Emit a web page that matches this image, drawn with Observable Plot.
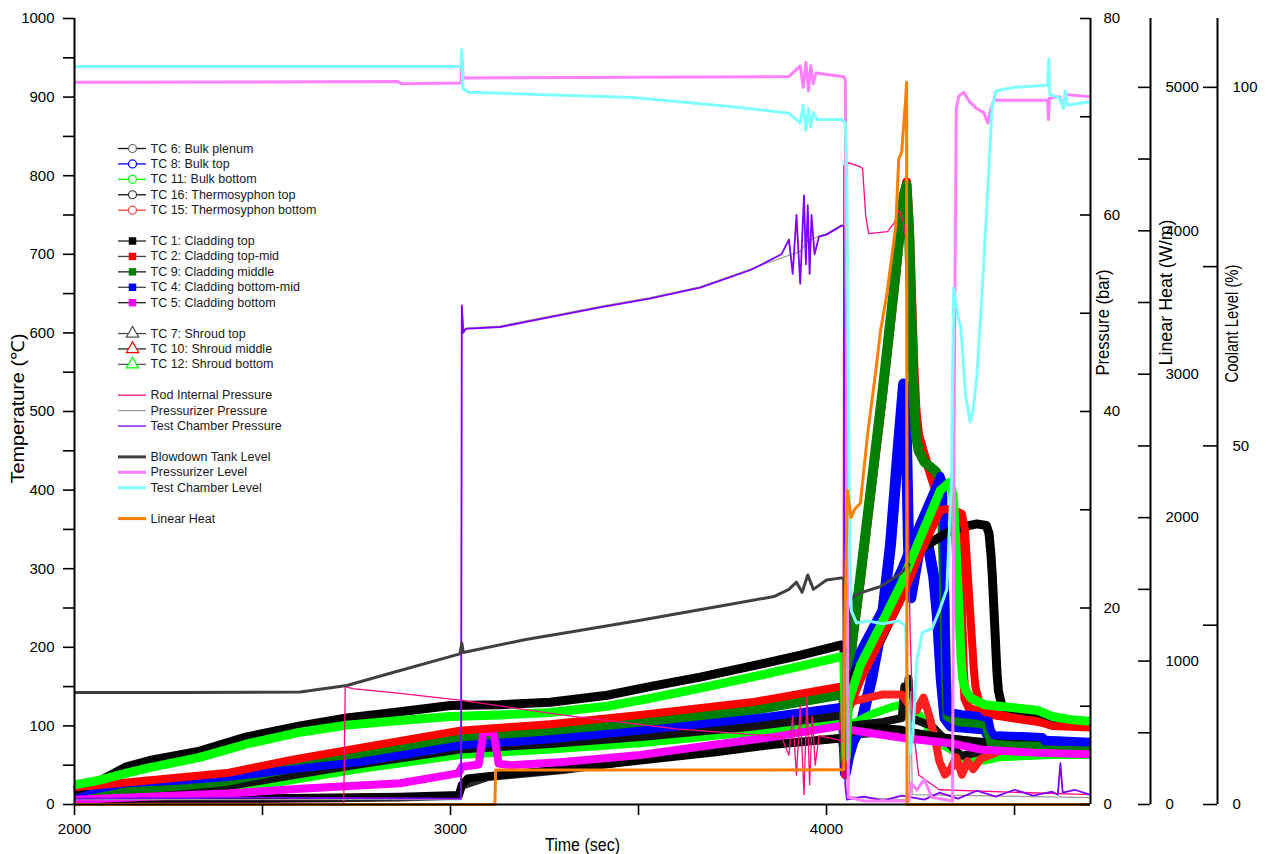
<!DOCTYPE html>
<html>
<head>
<meta charset="utf-8">
<script src="https://cdn.jsdelivr.net/npm/d3@7"></script>
<script src="https://cdn.jsdelivr.net/npm/@observablehq/plot@0.6"></script>
<style>
  html, body { margin: 0; padding: 0; background: #fff; }
  #chart svg { display: block; }
</style>
</head>
<body>
<div id="chart"></div>
<script>
// ---- Thermocouple temperatures (°C) : [time s, value] ----
const tc6BulkPlenum = [[2000,5],[2500,7],[2866,9],[3022,11],[3030,24],[3100,35],[3300,44],[3505,57],[3700,67],[3860,77],[4040,85],[4048,58],[4058,88],[4200,94],[4300,85],[4500,76],[4700,73]];
const tc8BulkTop = [[2000,11],[2138,24],[2300,28],[2405,32],[2580,42],[2759,51],[3025,72],[3265,80],[3505,91],[3800,106],[4037,120],[4045,118],[4050,40],[4058,60],[4070,80],[4090,98],[4120,160],[4144,221],[4170,330],[4190,450],[4205,535],[4210,520],[4214,430],[4218,330],[4224,263],[4232,285],[4245,320],[4258,352],[4270,330],[4285,290],[4295,240],[4305,160],[4315,110],[4330,100],[4420,96],[4440,80],[4460,86],[4600,80],[4700,78]];
const tc11BulkBottom = [[2000,6],[2200,10],[2405,17],[2580,31],[2759,45],[3025,63],[3265,70],[3505,78],[3800,92],[4037,106],[4045,104],[4050,45],[4058,100],[4120,115],[4180,125],[4220,128],[4250,112],[4280,90],[4300,78],[4330,70],[4360,60],[4380,55],[4420,56],[4460,60],[4600,63],[4700,63]];
const tc16ThermoTop = [[2000,8],[2138,13],[2405,23],[2580,37],[2759,51],[3025,70],[3265,77],[3505,86],[3800,99],[4037,113],[4045,112],[4050,50],[4058,100],[4150,105],[4200,110],[4207,150],[4212,125],[4218,160],[4224,110],[4280,100],[4320,80],[4340,70],[4360,62],[4420,68],[4500,70],[4700,72]];
const tc15ThermoBottom = [[2000,15],[2138,22],[2405,34],[2580,51],[2759,66],[3025,88],[3265,96],[3505,108],[3800,124],[4037,144],[4045,142],[4050,40],[4058,130],[4150,140],[4200,140],[4215,130],[4240,120],[4258,136],[4275,110],[4290,80],[4300,55],[4315,38],[4330,45],[4345,60],[4360,38],[4375,55],[4390,45],[4410,58],[4430,62],[4460,68],[4500,72],[4700,75]];

const tc1CladTop = [[2000,6],[2500,8],[2866,10],[3022,12],[3030,25],[3045,33],[3100,36],[3300,45],[3505,56],[3700,66],[3860,76],[4040,84],[4046,84],[4050,60],[4058,90],[4100,98],[4150,97],[4200,95],[4215,93],[4250,90],[4300,86],[4400,80],[4500,77],[4600,75],[4700,74]];
const tc2CladTopMid = [[2000,20],[2138,26],[2405,38],[2580,55],[2759,70],[3025,92],[3265,100],[3505,112],[3800,128],[4037,148],[4045,146],[4050,38],[4056,148],[4070,210],[4090,285],[4120,405],[4150,525],[4180,655],[4205,770],[4213,792],[4220,740],[4226,650],[4232,560],[4238,500],[4245,470],[4260,445],[4290,400],[4300,380],[4320,368],[4345,362],[4352,350],[4356,300],[4360,230],[4364,170],[4368,135],[4380,122],[4420,116],[4500,110],[4600,103],[4700,100]];
const tc9CladMiddle = [[2000,12],[2138,18],[2405,30],[2580,47],[2759,62],[3025,84],[3265,92],[3505,104],[3800,120],[4037,140],[4045,136],[4050,55],[4056,150],[4070,215],[4090,290],[4120,410],[4150,530],[4180,660],[4205,775],[4213,788],[4220,720],[4226,620],[4232,520],[4238,470],[4245,450],[4260,436],[4290,424],[4305,412],[4310,330],[4314,250],[4318,160],[4322,112],[4350,106],[4400,104],[4425,102],[4432,90],[4440,76],[4500,74],[4600,73],[4700,72]];
const tc4CladBottomMid = [[2000,14],[2138,27],[2300,31],[2405,35],[2500,40],[2580,45],[2759,54],[3025,75],[3265,83],[3505,94],[3800,109],[4037,124],[4045,122],[4050,45],[4057,140],[4090,196],[4144,245],[4197,298],[4250,360],[4303,418],[4310,405],[4313,330],[4316,250],[4319,170],[4322,118],[4360,115],[4400,113],[4430,110],[4437,95],[4445,88],[4520,87],[4575,86],[4580,80],[4700,79]];
const tc5CladBottom = [[2000,6],[2405,14],[2600,20],[2866,27],[3000,38],[3022,40],[3030,48],[3075,51],[3087,90],[3100,94],[3115,90],[3128,52],[3160,50],[3300,54],[3505,63],[3700,76],[3860,86],[4037,100],[4045,100],[4060,95],[4200,85],[4330,78],[4410,70],[4550,66],[4700,64]];

const tc7ShroudTop = [[2000,18],[2067,30],[2138,48],[2200,56],[2333,68],[2458,86],[2600,100],[2724,110],[2866,118],[3000,126],[3132,127],[3265,130],[3417,139],[3530,150],[3664,162],[3800,176],[3931,190],[4040,203],[4046,200],[4052,150],[4065,160],[4100,185],[4144,209],[4197,262],[4225,306],[4260,328],[4317,345],[4360,353],[4400,357],[4425,355],[4432,345],[4437,320],[4441,290],[4444,260],[4447,230],[4450,200],[4453,170],[4457,145],[4465,128],[4480,118],[4520,112],[4600,106],[4700,103]];
const tc10ShroudMiddle = [[2000,22],[2138,28],[2405,40],[2580,57],[2759,72],[3025,94],[3265,102],[3505,114],[3800,130],[4037,150],[4045,148],[4050,40],[4058,120],[4090,158],[4144,210],[4197,260],[4250,320],[4303,375],[4330,376],[4360,370],[4368,350],[4372,320],[4376,290],[4380,260],[4384,230],[4388,200],[4392,170],[4396,150],[4405,132],[4420,118],[4500,110],[4560,106],[4600,100],[4700,98]];
const tc12ShroudBottom = [[2000,25],[2067,31],[2138,40],[2200,47],[2333,60],[2458,77],[2600,92],[2724,101],[2866,107],[3000,112],[3132,114],[3265,117],[3417,125],[3530,135],[3664,148],[3800,162],[3931,176],[4040,188],[4046,185],[4052,60],[4058,130],[4090,177],[4144,228],[4197,279],[4250,340],[4303,400],[4328,410],[4336,395],[4340,370],[4343,340],[4346,310],[4349,280],[4352,250],[4355,215],[4358,185],[4362,160],[4370,145],[4385,135],[4420,127],[4500,123],[4560,120],[4600,112],[4650,108],[4700,106]];

// ---- Pressures (bar) ----
const rodInternalPressure = [[2000,0.1],[2716,0.1],[2720,12.0],[2740,11.8],[2866,11.3],[3030,10.6],[3300,9.1],[3600,7.7],[3880,6.9],[3900,5],[3910,9],[3920,3],[3930,10],[3940,1],[3948,11],[3955,2],[3962,9],[3970,4],[3980,7],[4040,6.5],[4044,6.5],[4046,65.0],[4060,65.3],[4090,64.9],[4096,64.7],[4104,60],[4112,58.1],[4162,58.3],[4180,59.2],[4192,60.5],[4205,59.1],[4212,57.2],[4216,35],[4222,18],[4230,8],[4245,3],[4300,1.5],[4700,1.0]];
const pressurizerPressure = [[2000,0.5],[3028,0.5],[3030,50.6],[3035,48.1],[3040,48.5],[3132,48.7],[3265,49.7],[3398,50.7],[3530,51.6],[3664,52.7],[3798,54.5],[3930,56.3],[3950,57.4],[4000,58.1],[4040,59.0],[4052,59],[4056,0.8],[4200,0.5],[4220,0.5],[4224,11.5],[4228,1],[4700,0.7]];
const testChamberPressure = [[2000,0.6],[2500,0.7],[3028,0.6],[3030,50.8],[3034,48.0],[3040,48.4],[3132,48.6],[3265,49.6],[3398,50.6],[3530,51.5],[3664,52.6],[3798,54.4],[3880,56],[3900,57.5],[3910,54],[3920,60],[3930,53],[3940,62],[3945,55],[3950,61],[3955,54],[3960,60],[3968,56],[3980,57.8],[4000,58],[4040,58.9],[4046,58.9],[4050,2],[4054,0.5],[4100,0.8],[4150,0.4],[4200,0.9],[4260,0.5],[4300,1.2],[4350,0.6],[4400,1.4],[4450,0.8],[4500,1.5],[4550,0.9],[4600,1.3],[4615,1.0],[4622,4.2],[4628,1.2],[4660,1.5],[4700,1.0]];

// ---- Coolant levels (%) ----
const blowdownTankLevel = [[2000,15.6],[2300,15.6],[2600,15.7],[2724,16.6],[2847,18.4],[3025,21.0],[3030,22.5],[3034,21.2],[3200,23.0],[3505,25.7],[3700,27.5],[3860,29.0],[3900,30],[3920,31],[3935,29.6],[3950,32],[3965,30],[4000,31.3],[4040,31.6],[4046,31.5],[4048,19.5],[4058,19.5],[4062,26.5],[4070,29.0],[4090,29.5],[4144,30.4],[4197,32.2],[4222,33.6]];
const pressurizerLevel = [[2000,100.7],[2860,100.8],[2870,100.5],[3028,100.6],[3030,104.0],[3034,101.3],[3500,101.4],[3900,101.5],[3930,103],[3938,100],[3945,103.5],[3952,99.5],[3958,103],[3965,100.5],[3972,102],[4040,101.5],[4046,101.5],[4050,101],[4054,50],[4058,1],[4100,0.5],[4220,0.5],[4225,3],[4240,2],[4260,3.5],[4280,1],[4335,0.5],[4340,60],[4345,97],[4352,98.8],[4365,99.3],[4380,98],[4400,97],[4418,96.5],[4429,95],[4437,97],[4445,98.2],[4588,98.2],[4590,95.5],[4593,98.5],[4620,98.7],[4630,97.5],[4635,99],[4700,98.7]];
const testChamberLevel = [[2000,102.9],[3028,102.9],[3030,105.3],[3033,99.8],[3050,99.3],[3485,98.6],[3750,97.3],[3900,96.4],[3930,95],[3938,97.5],[3945,94],[3952,97],[3958,94.5],[3965,96.5],[3975,95.5],[4040,95.5],[4050,95],[4054,88],[4058,60],[4062,35],[4066,27],[4080,25.3],[4110,25.6],[4150,25.2],[4190,25.6],[4210,25],[4216,15],[4222,7],[4230,10],[4240,20],[4255,24],[4280,24.5],[4300,27],[4320,30],[4332,45],[4338,72],[4350,68],[4357,66.6],[4370,57],[4382,53.3],[4390,55],[4400,60],[4412,70],[4425,82],[4440,97],[4450,99.5],[4500,100],[4588,100.3],[4591,104],[4594,99],[4620,98.5],[4630,97],[4635,99.5],[4640,97.5],[4700,98.0]];

// ---- Linear heat (W/m) ----
const linearHeat = [[2000,0],[3118,0],[3120,240],[3500,240],[4040,242],[4046,242],[4049,1300],[4056,2190],[4065,2000],[4075,2060],[4090,2100],[4110,2600],[4130,3000],[4144,3310],[4160,3550],[4170,3750],[4184,4030],[4192,4500],[4200,4550],[4205,4730],[4210,4900],[4213,5035],[4214,0],[4700,0]];

// ---- Axis ticks ----
const timeTicks = [2000, 2500, 3000, 3500, 4000, 4500];
const tempTicks = d3.range(0, 1001, 50);
const pressureTicks = d3.range(0, 81, 10);
const pressureLabels = [0, 20, 40, 60, 80];
const heatTicks = d3.range(0, 5001, 500);
const heatLabels = [0, 1000, 2000, 3000, 4000, 5000];
const levelTicks = [0, 25, 50, 75, 100];
const levelLabels = [0, 50, 100];

// ---- Legend groups ----
const legendGroups = [
  ["TC 6: Bulk plenum", "TC 8: Bulk top", "TC 11: Bulk bottom", "TC 16: Thermosyphon top", "TC 15: Thermosyphon bottom"],
  ["TC 1: Cladding top", "TC 2: Cladding top-mid", "TC 9: Cladding middle", "TC 4: Cladding bottom-mid", "TC 5: Cladding bottom"],
  ["TC 7: Shroud top", "TC 10: Shroud middle", "TC 12: Shroud bottom"],
  ["Rod Internal Pressure", "Pressurizer Pressure", "Test Chamber Pressure"],
  ["Blowdown Tank Level", "Pressurizer Level", "Test Chamber Level"],
  ["Linear Heat"]
];

// ---- Scale bookkeeping: every secondary quantity is drawn on the 0–1000 temperature scale ----
const X_DOMAIN = [2000, 4702];
const Y_TOP = 1000;
const P2T = Y_TOP / 80;      // pressure axis 0–80 bar
const H2T = Y_TOP / 5480;    // linear heat axis 0–5480 W/m
const L2T = Y_TOP / 109.6;   // coolant level axis 0–109.6 %

const W = 1266, H = 854;
const M = {left: 74, right: 176, top: 18, bottom: 50};
const frameW = W - M.left - M.right;
const frameH = H - M.top - M.bottom;
const pxToX = px => X_DOMAIN[0] + (px - M.left) / frameW * (X_DOMAIN[1] - X_DOMAIN[0]);
const pxToY = py => (H - M.bottom - py) / frameH * Y_TOP;

// ---- Series table (data + the axis each one belongs to) ----
const series = [
  {label: "TC 6: Bulk plenum", data: tc6BulkPlenum, k: 1},
  {label: "TC 8: Bulk top", data: tc8BulkTop, k: 1},
  {label: "TC 11: Bulk bottom", data: tc11BulkBottom, k: 1},
  {label: "TC 16: Thermosyphon top", data: tc16ThermoTop, k: 1},
  {label: "TC 15: Thermosyphon bottom", data: tc15ThermoBottom, k: 1},
  {label: "TC 1: Cladding top", data: tc1CladTop, k: 1},
  {label: "TC 2: Cladding top-mid", data: tc2CladTopMid, k: 1},
  {label: "TC 9: Cladding middle", data: tc9CladMiddle, k: 1},
  {label: "TC 4: Cladding bottom-mid", data: tc4CladBottomMid, k: 1},
  {label: "TC 5: Cladding bottom", data: tc5CladBottom, k: 1},
  {label: "TC 7: Shroud top", data: tc7ShroudTop, k: 1},
  {label: "TC 10: Shroud middle", data: tc10ShroudMiddle, k: 1},
  {label: "TC 12: Shroud bottom", data: tc12ShroudBottom, k: 1},
  {label: "Rod Internal Pressure", data: rodInternalPressure, k: P2T},
  {label: "Pressurizer Pressure", data: pressurizerPressure, k: P2T},
  {label: "Test Chamber Pressure", data: testChamberPressure, k: P2T},
  {label: "Blowdown Tank Level", data: blowdownTankLevel, k: L2T},
  {label: "Pressurizer Level", data: pressurizerLevel, k: L2T},
  {label: "Test Chamber Level", data: testChamberLevel, k: L2T},
  {label: "Linear Heat", data: linearHeat, k: H2T}
];

// ---- Styles ----
const styles = {
  "TC 6: Bulk plenum":          {color: "#2a2a2a", band: 8, shape: "circle",   mark: "#666666", line: "#111111"},
  "TC 8: Bulk top":             {color: "#0000ff", band: 11, shape: "circle",  mark: "#0000ff", line: "#0000ff"},
  "TC 11: Bulk bottom":         {color: "#00ff00", band: 8, shape: "circle",   mark: "#00ff00", line: "#00ff00"},
  "TC 16: Thermosyphon top":    {color: "#111111", band: 8, shape: "circle",   mark: "#333333", line: "#111111"},
  "TC 15: Thermosyphon bottom": {color: "#ff2020", band: 8, shape: "circle",   mark: "#ff4040", line: "#ff4040"},
  "TC 1: Cladding top":         {color: "#000000", band: 8, shape: "square",   mark: "#000000", line: "#222222"},
  "TC 2: Cladding top-mid":     {color: "#ff0000", band: 9, shape: "square",   mark: "#ff0000", line: "#444444"},
  "TC 9: Cladding middle":      {color: "#008000", band: 10, shape: "square",  mark: "#008000", line: "#222222"},
  "TC 4: Cladding bottom-mid":  {color: "#0000ff", band: 8, shape: "square",   mark: "#0000ff", line: "#444444"},
  "TC 5: Cladding bottom":      {color: "#ff00ff", band: 8, shape: "square",   mark: "#ff00ff", line: "#222222"},
  "TC 7: Shroud top":           {color: "#000000", band: 9, shape: "triangle", mark: "#555555", line: "#444444"},
  "TC 10: Shroud middle":       {color: "#ff0000", band: 8, shape: "triangle", mark: "#ff0000", line: "#222222"},
  "TC 12: Shroud bottom":       {color: "#00ff00", band: 9, shape: "triangle", mark: "#00ff00", line: "#555555"},
  "Rod Internal Pressure":      {color: "#ff0a84", band: 1.3, line: "#ff0a84"},
  "Pressurizer Pressure":       {color: "#9a9a9a", band: 1.2, line: "#a0a0a0"},
  "Test Chamber Pressure":      {color: "#8000ff", band: 1.8, line: "#8000ff"},
  "Blowdown Tank Level":        {color: "#404040", band: 3, line: "#404040"},
  "Pressurizer Level":          {color: "#ff80ff", band: 3, line: "#ff80ff"},
  "Test Chamber Level":         {color: "#80ffff", band: 3, line: "#80ffff"},
  "Linear Heat":                {color: "#ff8000", band: 3, line: "#ff8000"}
};

const FONT = "'Liberation Sans', Arial, Helvetica, sans-serif";

// Axis titles: text, placement around the frame, drawn length in px
const titles = [
  {text: "Temperature (℃)", frameAnchor: "left", dx: -56, dy: -3, rotate: -90, length: 150},
  {text: "Time (sec)", frameAnchor: "bottom", dx: 0, dy: 41, rotate: 0, length: 75},
  {text: "Pressure (bar)", frameAnchor: "right", dx: 13, dy: -89, rotate: -90, length: 106},
  {text: "Linear Heat (W/m)", frameAnchor: "right", dx: 76, dy: -119, rotate: -90, length: 146},
  {text: "Coolant Level (%)", frameAnchor: "right", dx: 142, dy: -88, rotate: -90, length: 118}
];

const marks = [];

// Data lines
for (const s of series) {
  const st = styles[s.label];
  marks.push(Plot.line(s.data, {
    x: d => d[0], y: d => d[1] * s.k,
    stroke: st.color, strokeWidth: st.band,
    strokeLinejoin: "round", strokeLinecap: "butt"
  }));
}

// Frame sides: left, bottom, right (pressure)
marks.push(Plot.ruleX([X_DOMAIN[0]], {strokeWidth: 2}));
marks.push(Plot.ruleY([0], {strokeWidth: 2}));
marks.push(Plot.ruleX([X_DOMAIN[1]], {strokeWidth: 2}));

// Temperature axis (left)
marks.push(Plot.axisY(tempTicks, {
  anchor: "left", tickSize: 11, tickPadding: 9, strokeWidth: 1.6,
  tickFormat: d => d % 100 === 0 ? String(d) : "", fontSize: 15, label: null
}));
// Time axis (bottom)
marks.push(Plot.axisX(timeTicks, {
  anchor: "bottom", tickSize: 11, tickPadding: 8, strokeWidth: 1.6,
  tickFormat: d => d % 1000 === 0 ? String(d) : "", fontSize: 15, label: null
}));

// Secondary right-hand axes: pressure, linear heat, coolant level
const rightAxes = [
  {ticks: pressureTicks, labels: pressureLabels, k: P2T, offset: 0, tick: 10, pad: 13, line: false},
  {ticks: heatTicks, labels: heatLabels, k: H2T, offset: 60, tick: 12, pad: 15, line: true},
  {ticks: levelTicks, labels: levelLabels, k: L2T, offset: 127, tick: 14, pad: 15, line: true}
];
for (const a of rightAxes) {
  if (a.line) marks.push(Plot.ruleX([X_DOMAIN[1]], {dx: a.offset, strokeWidth: 2}));
  marks.push(Plot.tickY(a.ticks, {y: d => d * a.k, insetLeft: frameW - a.tick, dx: a.offset, strokeWidth: 1.6}));
  marks.push(Plot.text(a.labels, {
    y: d => d * a.k, text: d => String(d), frameAnchor: "right",
    dx: a.offset + a.pad, textAnchor: "start", fontSize: 15
  }));
}

// Axis titles
for (const t of titles) {
  marks.push(Plot.text([t.text], {
    frameAnchor: t.frameAnchor, dx: t.dx, dy: t.dy, rotate: t.rotate,
    textAnchor: "middle", lineAnchor: "middle", fontSize: 18
  }));
}

// Legend inside the plot area
const LX1 = pxToX(118), LX2 = pxToX(146), LXM = pxToX(132), LXT = pxToX(150);
let row = 0;
legendGroups.forEach((group, gi) => {
  if (gi > 0) row += 1;
  for (const label of group) {
    const st = styles[label];
    const y = pxToY(148 + row * 15.42);
    const thickLine = st.band >= 3 && !st.shape;
    marks.push(Plot.ruleY([y], {x1: LX1, x2: LX2, stroke: st.line, strokeWidth: thickLine ? 3 : 1.3}));
    if (st.shape === "circle" || st.shape === "triangle") {
      marks.push(Plot.dot([y], {x: LXM, y: d => d, symbol: st.shape, r: st.shape === "circle" ? 4 : 4.6, fill: "white", stroke: st.mark, strokeWidth: 1.2}));
    } else if (st.shape === "square") {
      marks.push(Plot.dot([y], {x: LXM, y: d => d, symbol: "square", r: 4.2, fill: st.mark, stroke: "none"}));
    }
    marks.push(Plot.text([label], {x: LXT, y, textAnchor: "start", fontSize: 12.5, fill: "#1a1a1a"}));
    row += 1;
  }
});

const chart = Plot.plot({
  width: W, height: H,
  marginLeft: M.left, marginRight: M.right, marginTop: M.top, marginBottom: M.bottom,
  x: {domain: X_DOMAIN},
  y: {domain: [0, Y_TOP]},
  style: {background: "white", fontFamily: FONT, fontSize: "15px", color: "black", overflow: "visible"},
  marks
});

// Axis titles use the tall, slightly condensed lettering of the original figure
const titleLength = new Map(titles.map(t => [t.text, t.length]));
chart.querySelectorAll("text").forEach(el => {
  const len = titleLength.get(el.textContent);
  if (len) {
    el.setAttribute("textLength", len);
    el.setAttribute("lengthAdjust", "spacingAndGlyphs");
  }
});

document.getElementById("chart").append(chart);
</script>
</body>
</html>
